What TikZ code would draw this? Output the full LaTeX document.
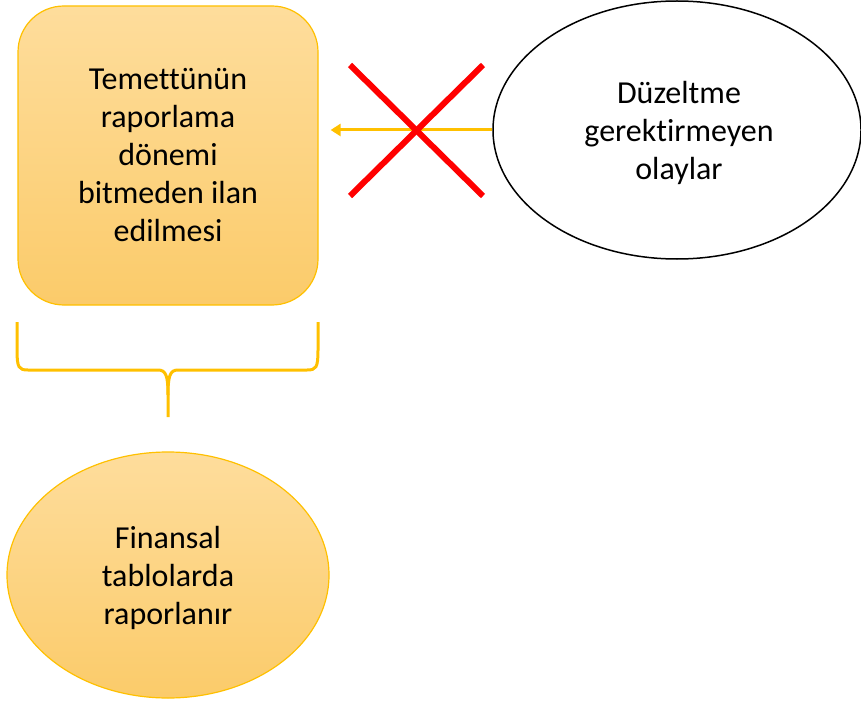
\documentclass[tikz,border=0pt]{standalone}
\usepackage{fontspec}
\setmainfont{Carlito}[RawFeature=-liga]
\usetikzlibrary{shapes.geometric,arrows.meta}
\definecolor{gold}{HTML}{FFC000}
\definecolor{ftop}{HTML}{FEDD9C}
\definecolor{fbot}{HTML}{FBCB6A}
\tikzset{
  txt/.style={font=\fontsize{32}{38}\selectfont, align=center, text=black},
  goldshape/.style={draw=gold, line width=1.2pt, top color=ftop, bottom color=fbot},
  goldline/.style={draw=gold, line width=3pt},
  crossline/.style={draw=red, line width=6pt}
}
\begin{document}
\begin{tikzpicture}[x=1pt,y=-1pt]
\useasboundingbox (0,0) rectangle (861,703);
% top-left rounded rectangle
\node[goldshape, rectangle, rounded corners=46pt, minimum width=300pt, minimum height=299pt, inner sep=0pt] (rect) at (168,155.5) {};
\node[txt] (recttxt) at (168,155) {Temettünün\\raporlama\\dönemi\\bitmeden ilan\\edilmesi};
% right ellipse
\node[ellipse, draw=black, line width=1.5pt, fill=white, minimum width=368pt, minimum height=258pt, inner sep=0pt] (ell) at (677,130) {};
\node[txt] (elltxt) at (679,133) {Düzeltme\\gerektirmeyen\\olaylar};
% arrow
\draw[goldline, -{Triangle[length=10pt,width=12pt]}, shorten >=12pt] (ell.west) -- (ell.west -| rect.east);
% red cross
\coordinate (c1) at (350,65);
\coordinate (c2) at (483,196);
\coordinate (c3) at (483,65);
\coordinate (c4) at (350,196);
\draw[crossline] (c1) -- (c2);
\draw[crossline] (c3) -- (c4);
% brace
\coordinate (bl) at (17,322);
\coordinate (br) at (318,322);
\coordinate (bm) at (168,417);
\draw[goldline] (bl) -- (17,350) .. controls (17,368) and (19,370) .. (28,370) -- (158,370) .. controls (166,370) and (168,376) .. (168,395) -- (bm);
\draw[goldline] (br) -- (318,350) .. controls (318,368) and (316,370) .. (307,370) -- (178,370) .. controls (170,370) and (168,376) .. (168,395);
% bottom ellipse
\node[goldshape, ellipse, minimum width=322pt, minimum height=246pt, inner sep=0pt] (bell) at (168,575) {};
\node[txt] (belltxt) at (168,578) {Finansal\\tablolarda\\raporlanır};
\end{tikzpicture}
\end{document}
